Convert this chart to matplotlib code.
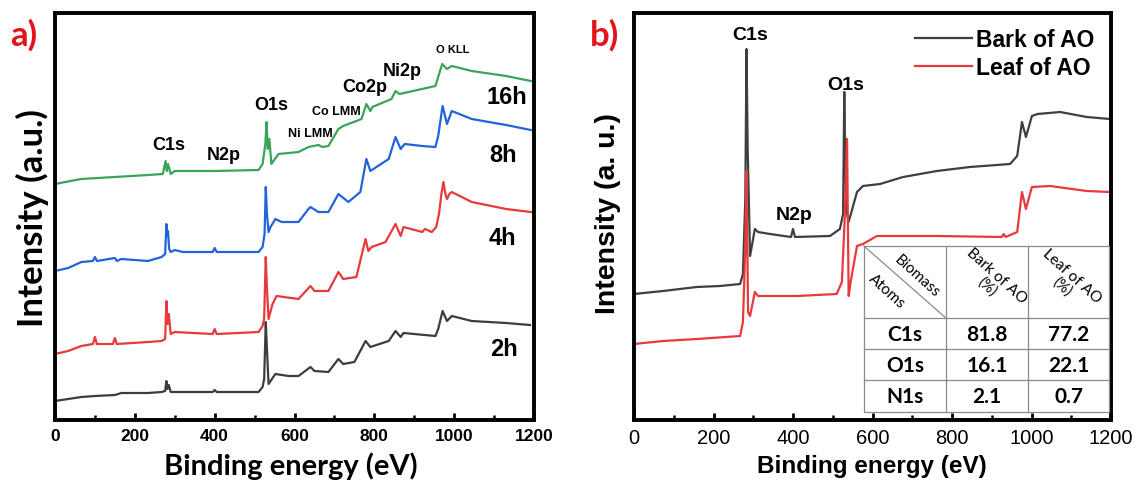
import matplotlib
matplotlib.use("Agg")
import matplotlib.pyplot as plt
from matplotlib.patches import Rectangle

plt.rcParams['font.family'] = ['Liberation Sans', 'DejaVu Sans']

# ---- panel a: survey spectra at different times (binding energy eV, intensity a.u.)
e_2h = [0, 66, 100, 150, 166, 233, 267, 276, 279, 282, 285, 290, 300, 395, 400, 405, 510, 520, 524, 528,
        531, 535, 552, 585, 610, 640, 650, 685, 710, 722, 750, 778, 790, 836, 853, 866, 873, 953, 960, 971,
        982, 994, 1044, 1130, 1190]
i_2h = [20, 24, 25, 26, 28, 28, 29, 30, 40, 32, 36, 29, 29, 29, 31, 29, 29, 34, 42, 99,
        72, 37, 47, 45, 45, 54, 50, 49, 62, 57, 59, 80, 74, 80, 90, 84, 88, 85, 92, 110,
        100, 105, 100, 98, 96]

e_4h = [0, 33, 66, 95, 100, 105, 145, 150, 155, 233, 267, 276, 279, 282, 285, 290, 300, 395, 400, 405,
        510, 520, 524, 528, 531, 535, 545, 555, 610, 640, 650, 685, 710, 722, 755, 778, 785, 793, 828, 853,
        866, 873, 920, 927, 944, 955, 962, 968, 973, 978, 982, 988, 994, 1044, 1130, 1192]
i_4h = [67, 70, 75, 77, 84, 77, 77, 83, 77, 79, 80, 82, 120, 97, 107, 87, 89, 87, 92, 87,
        89, 95, 102, 164, 132, 102, 117, 125, 122, 135, 130, 130, 149, 142, 144, 182, 170, 174, 179, 197,
        185, 194, 189, 192, 189, 194, 207, 227, 239, 227, 222, 227, 229, 219, 212, 209]

e_8h = [0, 33, 66, 95, 100, 105, 150, 155, 166, 233, 267, 276, 279, 281, 283, 286, 290, 300, 320, 395,
        400, 405, 510, 520, 525, 528, 531, 535, 540, 552, 568, 610, 635, 640, 660, 685, 710, 735, 765, 780,
        790, 836, 853, 866, 876, 920, 953, 960, 971, 982, 994, 1044, 1130, 1192]
i_8h = [150, 153, 159, 160, 164, 160, 163, 160, 162, 160, 164, 167, 197, 185, 190, 172, 169, 171, 169, 169,
        173, 169, 169, 174, 187, 234, 207, 189, 194, 202, 199, 199, 212, 214, 209, 209, 227, 219, 229, 262,
        250, 262, 284, 272, 277, 275, 274, 285, 315, 297, 310, 302, 296, 291]

e_16h = [0, 65, 150, 233, 270, 277, 280, 283, 290, 300, 400, 510, 520, 527, 530, 533, 537, 542, 560, 610,
         635, 660, 670, 685, 710, 722, 768, 780, 790, 795, 843, 853, 863, 953, 970, 982, 994, 1044, 1130, 1192]
i_16h = [237, 242, 244, 246, 247, 260, 250, 257, 247, 250, 250, 251, 257, 277, 299, 272, 282, 257, 267, 269,
         274, 276, 274, 275, 292, 295, 302, 317, 310, 314, 322, 330, 327, 335, 357, 352, 355, 350, 345, 340]

times = ['2h', '4h', '8h', '16h']
time_colors = ['#3d3d3d', '#e8393b', '#2264d8', '#3aa55a']
time_label_pos = [(1125, 73), (1122, 183), (1122, 267), (1132, 325)]

peaks_a = ['C1s', 'N2p', 'O1s', 'Ni LMM', 'Co LMM', 'Co2p', 'Ni2p', 'O KLL']
peaks_a_pos = [(286, 276), (423, 267), (541, 316), (641, 288), (704, 310), (777, 334), (869, 351), (997, 372)]
peaks_a_size = [13, 13, 13, 9, 9, 13, 13, 8]

# ---- panel b: bark vs leaf
e_bark = [0, 73, 158, 216, 267, 274, 280, 283, 286, 292, 304, 312, 342, 395, 400, 405, 493, 518, 526, 529,
          531, 534, 540, 561, 576, 619, 677, 762, 845, 946, 964, 976, 986, 1001, 1015, 1072, 1139, 1197]
i_bark = [126, 129, 133, 134, 136, 146, 221, 371, 271, 164, 191, 188, 186, 183, 191, 183, 184, 191, 206, 328,
          271, 211, 198, 228, 234, 236, 243, 249, 253, 256, 264, 298, 283, 304, 306, 308, 303, 301]

e_leaf = [0, 73, 158, 267, 274, 280, 283, 287, 292, 304, 312, 410, 510, 523, 530, 536, 540, 545, 561, 576,
          611, 762, 925, 930, 935, 964, 976, 986, 1001, 1047, 1139, 1197]
i_leaf = [76, 79, 81, 84, 98, 171, 249, 108, 104, 128, 124, 124, 126, 138, 201, 281, 124, 138, 174, 176,
          184, 184, 183, 186, 183, 188, 228, 211, 233, 234, 229, 228]

peaks_b = ['C1s', 'O1s', 'N2p']
peaks_b_pos = [(292, 385), (533, 336), (403, 205)]

atoms = ['C1s', 'O1s', 'N1s']
bark_pct = ['81.8', '16.1', '2.1']
leaf_pct = ['77.2', '22.1', '0.7']

fig = plt.figure(figsize=(11.36, 4.81), dpi=100)
axa = fig.add_axes([55 / 1136, 60 / 481, 479 / 1136, 407 / 481])
axb = fig.add_axes([634 / 1136, 60 / 481, 477 / 1136, 407 / 481])

for ax in (axa, axb):
    ax.set_xlim(0, 1200)
    ax.set_xticks(range(0, 1201, 200))
    ax.set_xticks(range(100, 1200, 200), minor=True)
    ax.set_yticks([])
    for s in ax.spines.values():
        s.set_linewidth(2.8)
    ax.tick_params(axis='x', which='major', direction='in', length=5, width=2, pad=6)
    ax.tick_params(axis='x', which='minor', direction='in', length=3.5, width=1.8)

axa.set_ylim(1, 408)
axb.set_ylim(0, 407)

# panel a
for e, i, c in zip([e_2h, e_4h, e_8h, e_16h], [i_2h, i_4h, i_8h, i_16h], time_colors):
    axa.plot(e, i, color=c, lw=1.6)
for t, (x, y) in zip(times, time_label_pos):
    axa.text(x, y, t, fontsize=17, fontweight='bold', ha='center', va='center')
for p, (x, y), fs in zip(peaks_a, peaks_a_pos, peaks_a_size):
    axa.text(x, y, p, fontsize=fs, fontweight='bold', ha='center', va='center')
for lab in axa.get_xticklabels():
    lab.set_fontweight('bold')
    lab.set_fontsize(12.5)

# panel b
axb.plot(e_bark, i_bark, color='#3f3f3f', lw=1.6, label='Bark of AO')
axb.plot(e_leaf, i_leaf, color='#e8393d', lw=1.6, label='Leaf of AO')
for p, (x, y) in zip(peaks_b, peaks_b_pos):
    axb.text(x, y, p, fontsize=14, fontweight='bold', ha='center', va='center')
for lab in axb.get_xticklabels():
    lab.set_fontsize(14.5)
axb.legend(loc='upper left', bbox_to_anchor=(0.545, 1.014), frameon=False, handlelength=2.5,
           handletextpad=0.2, labelspacing=0.22, prop={'size': 16.5, 'weight': 'bold'})

# composition table drawn inside panel b
tx = [0.482, 0.654, 0.826, 0.996]
ty = [0.4275, 0.2506, 0.1744, 0.0983, 0.0197]
tab_kw = dict(transform=axb.transAxes, color='#8a8a8a', lw=0.9, zorder=6)
axb.add_patch(Rectangle((tx[0], ty[-1]), tx[-1] - tx[0], ty[0] - ty[-1], transform=axb.transAxes,
                        facecolor='white', edgecolor='#8a8a8a', lw=0.9, zorder=5))
for x in tx[1:-1]:
    axb.plot([x, x], [ty[-1], ty[0]], **tab_kw)
for y in ty[1:-1]:
    axb.plot([tx[0], tx[-1]], [y, y], **tab_kw)
axb.plot([tx[0], tx[1]], [ty[0], ty[1]], **tab_kw)
cell_font = ['Lato', 'DejaVu Sans']
hdr = dict(transform=axb.transAxes, fontsize=11, family=cell_font, rotation=-42,
           ha='center', va='center', zorder=7, rotation_mode='anchor')
axb.text(0.593, 0.356, 'Biomass', **hdr)
axb.text(0.530, 0.317, 'Atoms', **hdr)
axb.text(0.750, 0.342, 'Bark of AO\n(%)', multialignment='center', linespacing=1.0, **hdr)
axb.text(0.908, 0.342, 'Leaf of AO\n(%)', multialignment='center', linespacing=1.0, **hdr)
xc = [(tx[k] + tx[k + 1]) / 2 for k in range(3)]
for r, (a, b, l) in enumerate(zip(atoms, bark_pct, leaf_pct)):
    yc = (ty[r + 1] + ty[r + 2]) / 2
    for x, s in zip(xc, (a, b, l)):
        axb.text(x, yc, s, transform=axb.transAxes, fontsize=15, fontweight='bold', family=cell_font,
                 ha='center', va='center', zorder=7)

# axis titles and panel tags
fig.text(291 / 1136, 1 - 466 / 481, 'Binding energy (eV)', fontsize=21, fontweight='bold',
         family=['Lato', 'DejaVu Sans'], ha='center', va='center')
fig.text(872 / 1136, 1 - 466 / 481, 'Binding energy (eV)', fontsize=17.5, fontweight='bold',
         ha='center', va='center')
fig.text(32 / 1136, 1 - 218 / 481, 'Intensity (a.u.)', fontsize=25, fontweight='bold',
         family=['Lato', 'DejaVu Sans'], rotation=90, ha='center', va='center')
fig.text(608 / 1136, 1 - 214 / 481, 'Intensity (a. u.)', fontsize=20.5, fontweight='bold',
         rotation=90, ha='center', va='center')
fig.text(24 / 1136, 1 - 35 / 481, 'a)', fontsize=25, fontweight='bold', color='#e4141b',
         family=['Lato', 'DejaVu Sans'], ha='center', va='center')
fig.text(604 / 1136, 1 - 35 / 481, 'b)', fontsize=25, fontweight='bold', color='#e4141b',
         family=['Lato', 'DejaVu Sans'], ha='center', va='center')

fig.savefig('out.png', dpi=100)
